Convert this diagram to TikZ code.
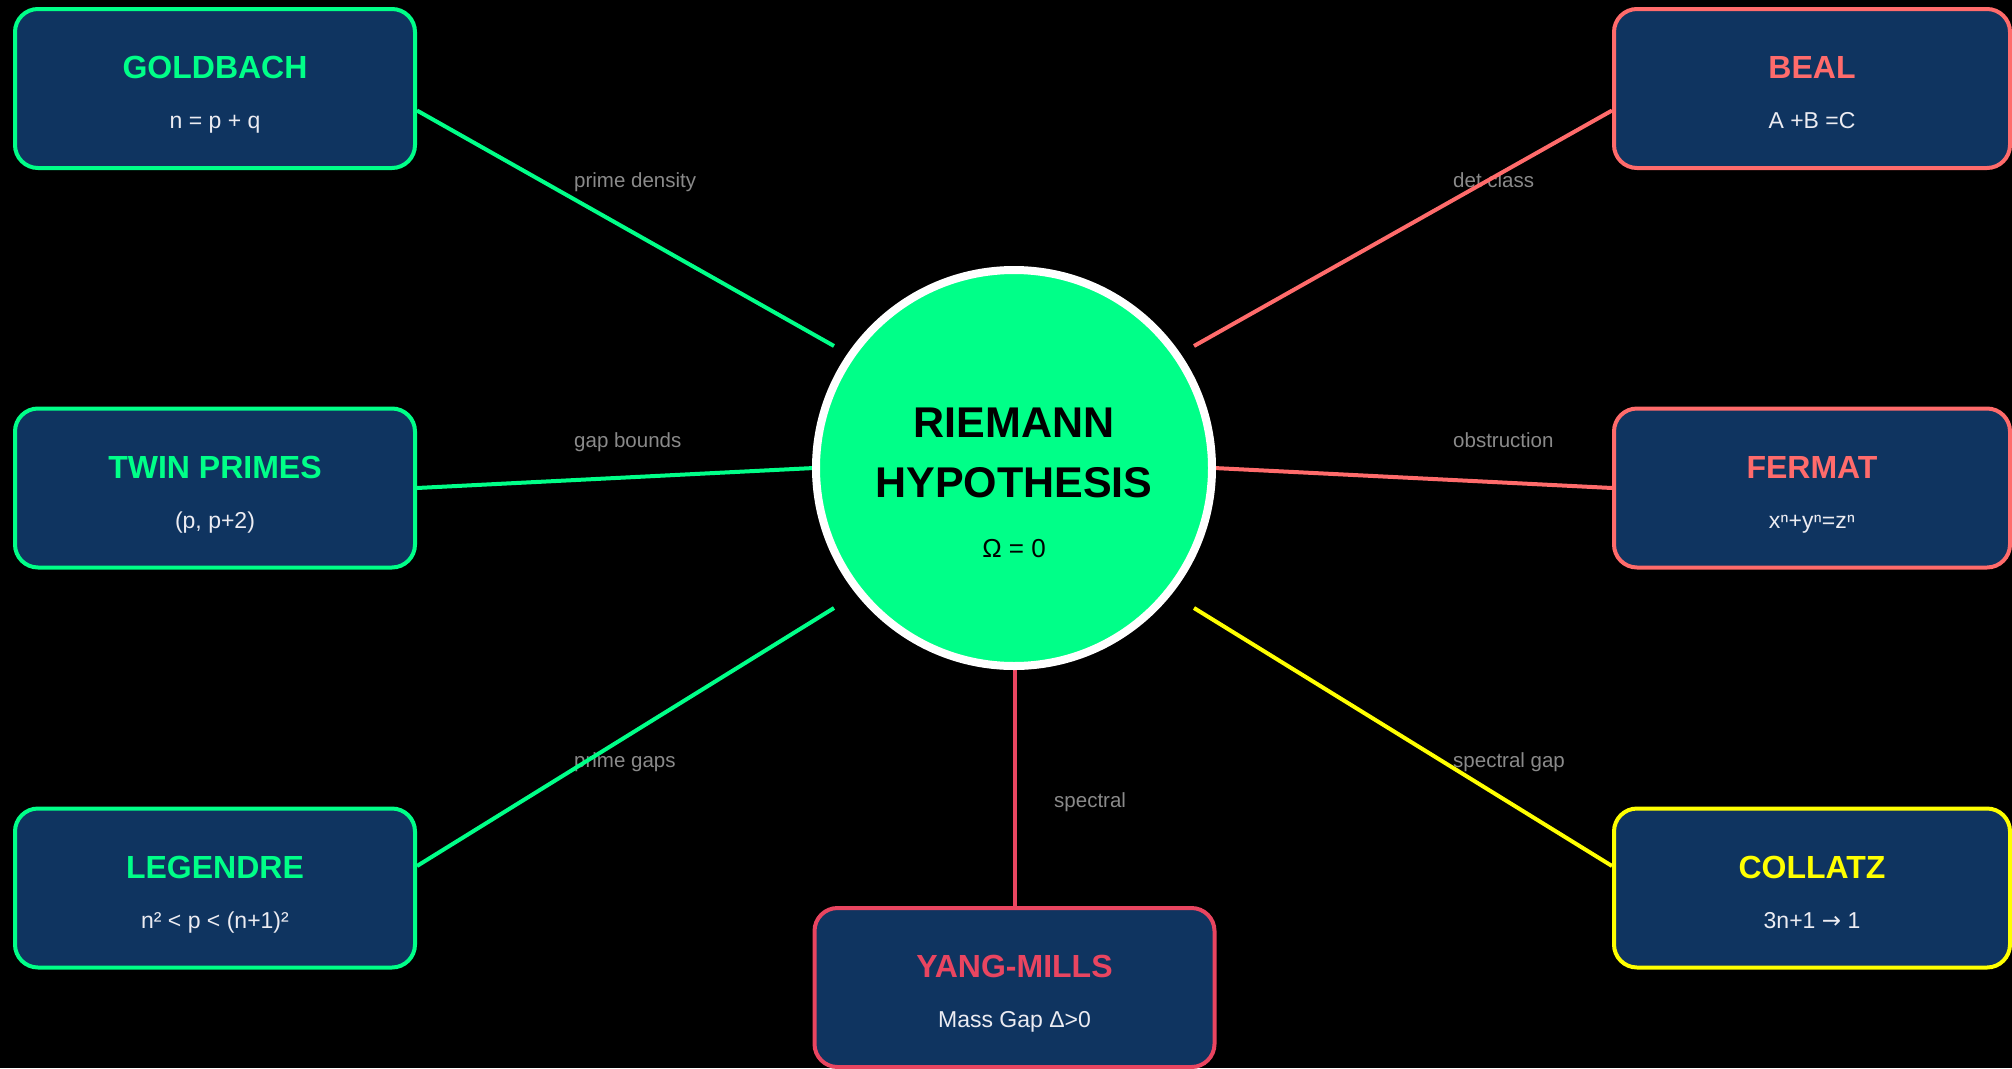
\documentclass[tikz,border=0pt]{standalone}
\usepackage{fontspec}
\setmainfont{Liberation Sans}
\newfontfamily\dvs{DejaVu Sans}
\definecolor{bgblack}{HTML}{000000}
\definecolor{navy}{HTML}{0F3460}
\definecolor{mint}{HTML}{00FF88}
\definecolor{coral}{HTML}{FF6B6B}
\definecolor{rose}{HTML}{E94560}
\definecolor{yel}{HTML}{FFFF00}
\definecolor{lbl}{HTML}{8A8A8A}
\definecolor{sub}{HTML}{ECECF2}
\pgfdeclarelayer{bg}
\pgfdeclarelayer{lines}
\pgfsetlayers{bg,lines,main}
\tikzset{
  probbox/.style={draw=#1, line width=4pt, fill=navy, rounded corners=23pt,
    minimum width=400pt, minimum height=159pt, inner sep=0pt},
  ttl/.style={anchor=base, text=#1, font=\fontsize{32}{32}\selectfont\bfseries, inner sep=0pt},
  subt/.style={anchor=base, text=sub, font=\fontsize{23}{23}\selectfont, inner sep=0pt},
  lab/.style={anchor=base west, text=lbl, font=\fontsize{20.5}{20.5}\selectfont, inner sep=0pt},
  conn/.style={draw=#1, line width=4pt},
}
\begin{document}
\begin{tikzpicture}[x=1pt,y=-1pt]
\useasboundingbox (0,0) rectangle (2012,1068);
\begin{pgfonlayer}{bg}
\fill[bgblack] (0,0) rectangle (2012,1068);
\node[lab] (l1) at (574,187) {prime density};
\node[lab] (l2) at (574,447) {gap bounds};
\node[lab] (l3) at (574,767) {prime gaps};
\node[lab] (l4) at (1453,187) {det class};
\node[lab] (l5) at (1453,447) {obstruction};
\node[lab] (l6) at (1453,767) {spectral gap};
\node[lab] (l7) at (1054,807) {spectral};
\end{pgfonlayer}

% center
\node[circle, draw=white, line width=8pt, fill=mint, minimum size=396pt, inner sep=0pt] (rh) at (1014,468) {};
\node[anchor=base, inner sep=0pt, font=\fontsize{43}{43}\selectfont\bfseries] (rh1) at (1014,437) {RIEMANN};
\node[anchor=base, inner sep=0pt, font=\fontsize{43}{43}\selectfont\bfseries] (rh2) at (1014,497) {HYPOTHESIS};
\node[anchor=base, inner sep=0pt, font=\fontsize{26}{26}\selectfont] (rh3) at (1014,557) {Ω = 0};

\coordinate (c1) at (834,346);
\coordinate (c2) at (814,468);
\coordinate (c3) at (834,608);
\coordinate (c4) at (1194,346);
\coordinate (c5) at (1214,468);
\coordinate (c6) at (1194,608);
\coordinate (c7) at (1014.5,668);

% boxes
\node[probbox=mint] (gold) at (215,88.5) {};
\node[ttl=mint] (goldt) at (215,78) {GOLDBACH};
\node[subt] (golds) at (215,128) {n = p + q};

\node[probbox=mint] (twin) at (215,488) {};
\node[ttl=mint] (twint) at (215,478) {TWIN PRIMES};
\node[subt] (twins) at (215,528) {(p, p+2)};

\node[probbox=mint] (leg) at (215,888) {};
\node[ttl=mint] (legt) at (215,878) {LEGENDRE};
\node[subt] (legs) at (215,928) {n² < p < (n+1)²};

\node[probbox=coral, minimum width=396pt] (beal) at (1812,88.5) {};
\node[ttl=coral] (bealt) at (1812,78) {BEAL};
\node[subt] (beals) at (1812,128) {A +B =C};

\node[probbox=coral, minimum width=396pt] (ferm) at (1812,488) {};
\node[ttl=coral] (fermt) at (1812,478) {FERMAT};
\node[subt] (ferms) at (1812,528) {xⁿ+yⁿ=zⁿ};

\node[probbox=yel, minimum width=396pt] (coll) at (1812,888) {};
\node[ttl=yel] (collt) at (1812,878) {COLLATZ};
\node[subt] (colls) at (1812,928) {3n+1 {\dvs →} 1};

\node[probbox=rose] (ym) at (1014.5,987.5) {};
\node[ttl=rose] (ymt) at (1014.5,977) {YANG-MILLS};
\node[subt] (yms) at (1014.5,1027) {Mass Gap Δ>0};

\begin{pgfonlayer}{lines}
\draw[conn=mint] ([yshift=-22pt]gold.east) -- (c1);
\draw[conn=mint] (twin.east) -- (c2);
\draw[conn=mint] ([yshift=22pt]leg.east) -- (c3);
\draw[conn=coral] ([yshift=-22pt]beal.west) -- (c4);
\draw[conn=coral] (ferm.west) -- (c5);
\draw[conn=yel] ([yshift=22pt]coll.west) -- (c6);
\draw[conn=rose] (ym.north) -- (c7);
\end{pgfonlayer}
\end{tikzpicture}
\end{document}
